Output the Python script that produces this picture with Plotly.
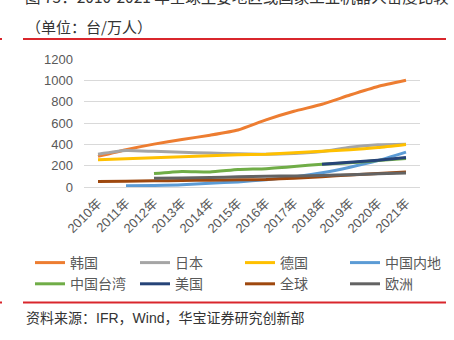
import plotly.graph_objects as go

years = ["2010年", "2011年", "2012年", "2013年", "2014年", "2015年",
         "2016年", "2017年", "2018年", "2019年", "2020年", "2021年"]
korea = [287, 350, 402, 445, 486, 535, 630, 710, 776, 862, 942, 1000]
japan = [308, 342, 334, 325, 318, 312, 308, 315, 332, 372, 396, 401]
germany = [256, 264, 274, 284, 293, 303, 308, 320, 336, 349, 370, 399]
mainland = [None, 11, 14, 20, 36, 48, 69, 95, 134, 186, 248, 327]
taiwan = [None, None, 126, 146, 141, 164, 172, 192, 214, 228, 248, 268]
usa = [None, None, None, None, None, None, None, None, 214, 232, 251, 276]
world = [52, 55, 58, 61, 64, 67, 71, 83, 97, 113, 127, 141]
europe = [None, None, 82, 85, 88, 95, 100, 104, 108, 116, 124, 132]

series = [
    ("韩国", korea, "#ED7D31"),
    ("日本", japan, "#A5A5A5"),
    ("德国", germany, "#FFC000"),
    ("中国内地", mainland, "#5B9BD5"),
    ("中国台湾", taiwan, "#70AD47"),
    ("美国", usa, "#264478"),
    ("全球", world, "#9E480E"),
    ("欧洲", europe, "#636363"),
]

FONT = "Liberation Sans, Arial, Noto Sans CJK SC, sans-serif"
CJK = "Noto Sans CJK SC, sans-serif"

# plot area geometry (pixels)
W, H = 454, 340
ML, MR, MT, MB = 84, 34, 59, 153
PW = W - ML - MR
PH = H - MT - MB


def px(x):
    return (x - ML) / PW


def py(y):
    return (H - MB - y) / PH


fig = go.Figure()
for name, vals, color in series:
    fig.add_trace(go.Scatter(
        x=years, y=vals, name=name, mode="lines",
        line=dict(color=color, width=3, shape="spline", smoothing=0.5),
        connectgaps=False,
    ))

fig.update_layout(
    width=W, height=H,
    margin=dict(l=ML, r=MR, t=MT, b=MB, pad=0),
    paper_bgcolor="white", plot_bgcolor="white",
    font=dict(family=FONT, size=13, color="#595959"),
    showlegend=True,
    legend=dict(
        orientation="h", x=px(30), y=py(247), xanchor="left", yanchor="top",
        entrywidth=60, entrywidthmode="pixels", traceorder="normal",
        font=dict(family=CJK, size=14, color="#595959"),
        itemwidth=30, tracegroupgap=0, bgcolor="rgba(0,0,0,0)",
    ),
    xaxis=dict(
        type="category", range=[-0.5, 11.5], tickangle=-45,
        showgrid=False, showline=False, ticks="", zeroline=False,
        ticklabelstandoff=5,
        tickfont=dict(family=FONT, size=13, color="#595959"),
        fixedrange=True,
    ),
    yaxis=dict(
        range=[0, 1200], tickvals=[0, 200, 400, 600, 800, 1000, 1200],
        showgrid=True, gridcolor="#D9D9D9", gridwidth=1,
        zeroline=True, zerolinecolor="#D9D9D9", zerolinewidth=1,
        showline=False, ticks="", ticklabelstandoff=10,
        tickfont=dict(family=FONT, size=13, color="#595959"),
        fixedrange=True,
    ),
)

# title text (top is cropped in the reference)
fig.add_annotation(
    text="图 75：2010-2021 年全球主要地区或国家工业机器人密度比较",
    xref="paper", yref="paper", x=px(23), y=py(-4), xanchor="left", yanchor="middle",
    showarrow=False, font=dict(family=CJK, size=15.5, color="#333333"),
)
fig.add_annotation(
    text="（单位：台/万人）",
    xref="paper", yref="paper", x=px(24), y=py(26), xanchor="left", yanchor="middle",
    showarrow=False, font=dict(family=CJK, size=15, color="#333333"),
)
fig.add_annotation(
    text="资料来源：IFR，Wind，华宝证券研究创新部",
    xref="paper", yref="paper", x=px(24), y=py(318), xanchor="left", yanchor="middle",
    showarrow=False, font=dict(family=FONT, size=14, color="#333333"),
)

for yy in (39, 302.5):
    fig.add_shape(type="line", xref="paper", yref="paper",
                  x0=px(23), x1=px(446), y0=py(yy), y1=py(yy),
                  line=dict(color="#D9262C", width=2))
    fig.add_shape(type="line", xref="paper", yref="paper",
                  x0=px(0), x1=px(2), y0=py(yy), y1=py(yy),
                  line=dict(color="#D9262C", width=2))

fig.write_html("out.html")
